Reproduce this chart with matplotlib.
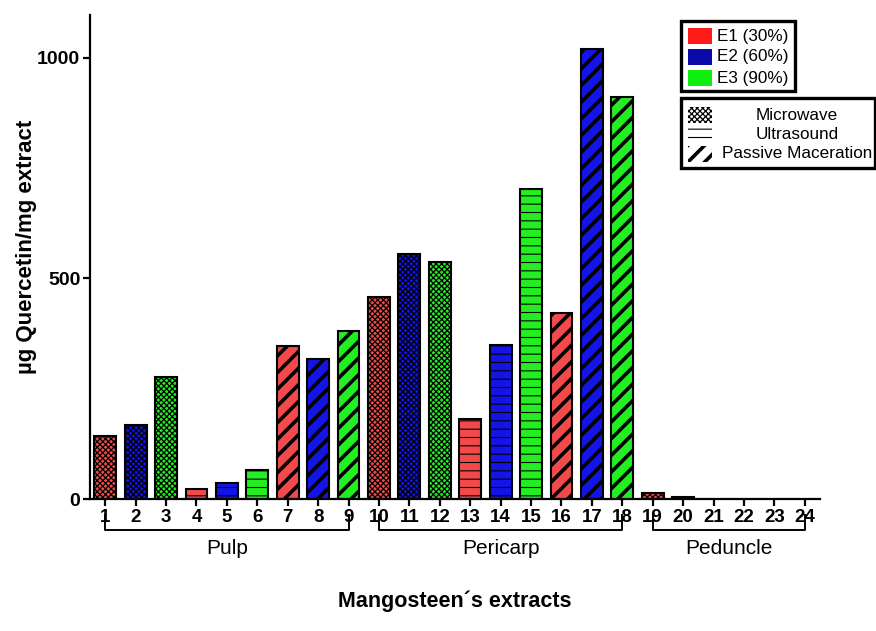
import matplotlib.pyplot as plt
from matplotlib.patches import Rectangle

plt.rcParams['font.family'] = ['Liberation Sans', 'DejaVu Sans']

# bar values (µg quercetin / mg extract)
samples = list(range(1, 25))
values = [143, 168, 277, 23, 36, 66, 347, 317, 381,
          458, 556, 537, 181, 349, 703, 422, 1020, 912,
          14, 5, 0, 0, 0, 0]
solvents = ['E1', 'E2', 'E3'] * 8
methods = (['Microwave'] * 3 + ['Ultrasound'] * 3 + ['Passive Maceration'] * 3) * 2 + \
          ['Microwave'] * 3 + ['Ultrasound'] * 3
groups = [('Pulp', 1, 9), ('Pericarp', 10, 18), ('Peduncle', 19, 24)]

solvent_colors = {'E1': '#f24a4a', 'E2': '#1414e6', 'E3': '#22ee22'}
legend_colors = {'E1': '#ff1a1a', 'E2': '#0a0aaa', 'E3': '#10ee10'}
solvent_labels = {'E1': 'E1 (30%)', 'E2': 'E2 (60%)', 'E3': 'E3 (90%)'}
method_hatch = {'Microwave': 'xxxxxx', 'Ultrasound': '--', 'Passive Maceration': '//'}
method_hlw = {'Microwave': 0.9, 'Ultrasound': 0.8, 'Passive Maceration': 2.6}

W, H = 876, 631
fig = plt.figure(figsize=(W / 100, H / 100), dpi=100)
ax = fig.add_axes([90 / W, 1 - 499 / H, 730 / W, 484 / H])

for s, v, sol, m in zip(samples, values, solvents, methods):
    if v <= 0:
        continue
    b = ax.bar(s, v, width=0.72, color=solvent_colors[sol], edgecolor='black',
               linewidth=1.5, hatch=method_hatch[m])[0]
    try:
        b.set_hatch_linewidth(method_hlw[m])
    except AttributeError:
        pass

ax.set_xlim(0.5, 24.5)
ax.set_ylim(0, 1097)
ax.set_yticks([0, 500, 1000])
ax.set_xticks(samples)
ax.set_xticklabels([str(s) for s in samples])
for side in ['top', 'right']:
    ax.spines[side].set_visible(False)
for side in ['left', 'bottom']:
    ax.spines[side].set_linewidth(1.6)
ax.tick_params(width=1.6, length=5, pad=2)
ax.tick_params(axis='x', labelsize=13.5)
ax.tick_params(axis='y', labelsize=14)
for lab in ax.get_xticklabels() + ax.get_yticklabels():
    lab.set_fontweight('bold')
ax.set_ylabel('µg Quercetin/mg extract', fontsize=16, fontweight='bold')
ax.yaxis.set_label_coords(-0.073, 0.52)

# group brackets below the axis
trans = ax.get_xaxis_transform()
for name, a, b in groups:
    yt, yb = -0.033, -0.064
    ax.plot([a, a, b, b], [yt, yb, yb, yt], color='black', lw=1.4,
            transform=trans, clip_on=False)
    ax.text((a + b) / 2, -0.103, name, transform=trans, ha='center', va='center',
            fontsize=15)
ax.text(12.5, -0.212, 'Mangosteen´s extracts', transform=trans, ha='center',
        va='center', fontsize=15.5, fontweight='bold')


def fx(px):
    return px / W


def fy(py):
    return 1 - py / H


# legend 1: solvents
fig.patches.append(Rectangle((fx(681), fy(91)), fx(795) - fx(681), fy(21) - fy(91),
                             transform=fig.transFigure, facecolor='white',
                             edgecolor='black', linewidth=2.4))
for i, k in enumerate(['E1', 'E2', 'E3']):
    yc = 36 + 21 * i
    fig.patches.append(Rectangle((fx(688), fy(yc + 8)), fx(712) - fx(688), fy(yc - 8) - fy(yc + 8),
                                 transform=fig.transFigure, facecolor=legend_colors[k],
                                 edgecolor='none'))
    fig.text(fx(717), fy(yc), solvent_labels[k], ha='left', va='center', fontsize=12.3)

# legend 2: extraction methods
fig.patches.append(Rectangle((fx(681), fy(168)), fx(875) - fx(681), fy(98) - fy(168),
                             transform=fig.transFigure, facecolor='white',
                             edgecolor='black', linewidth=2.4))
for i, m in enumerate(['Microwave', 'Ultrasound', 'Passive Maceration']):
    yc = 115 + 19.5 * i
    r = Rectangle((fx(688), fy(yc + 8)), fx(712) - fx(688), fy(yc - 8) - fy(yc + 8),
                  transform=fig.transFigure, facecolor='white', edgecolor='black',
                  linewidth=0, hatch=method_hatch[m])
    try:
        r.set_hatch_linewidth(method_hlw[m])
    except AttributeError:
        pass
    fig.patches.append(r)
    fig.text(fx(797), fy(yc), m, ha='center', va='center', fontsize=12.3)

fig.savefig('out.png', dpi=100)
